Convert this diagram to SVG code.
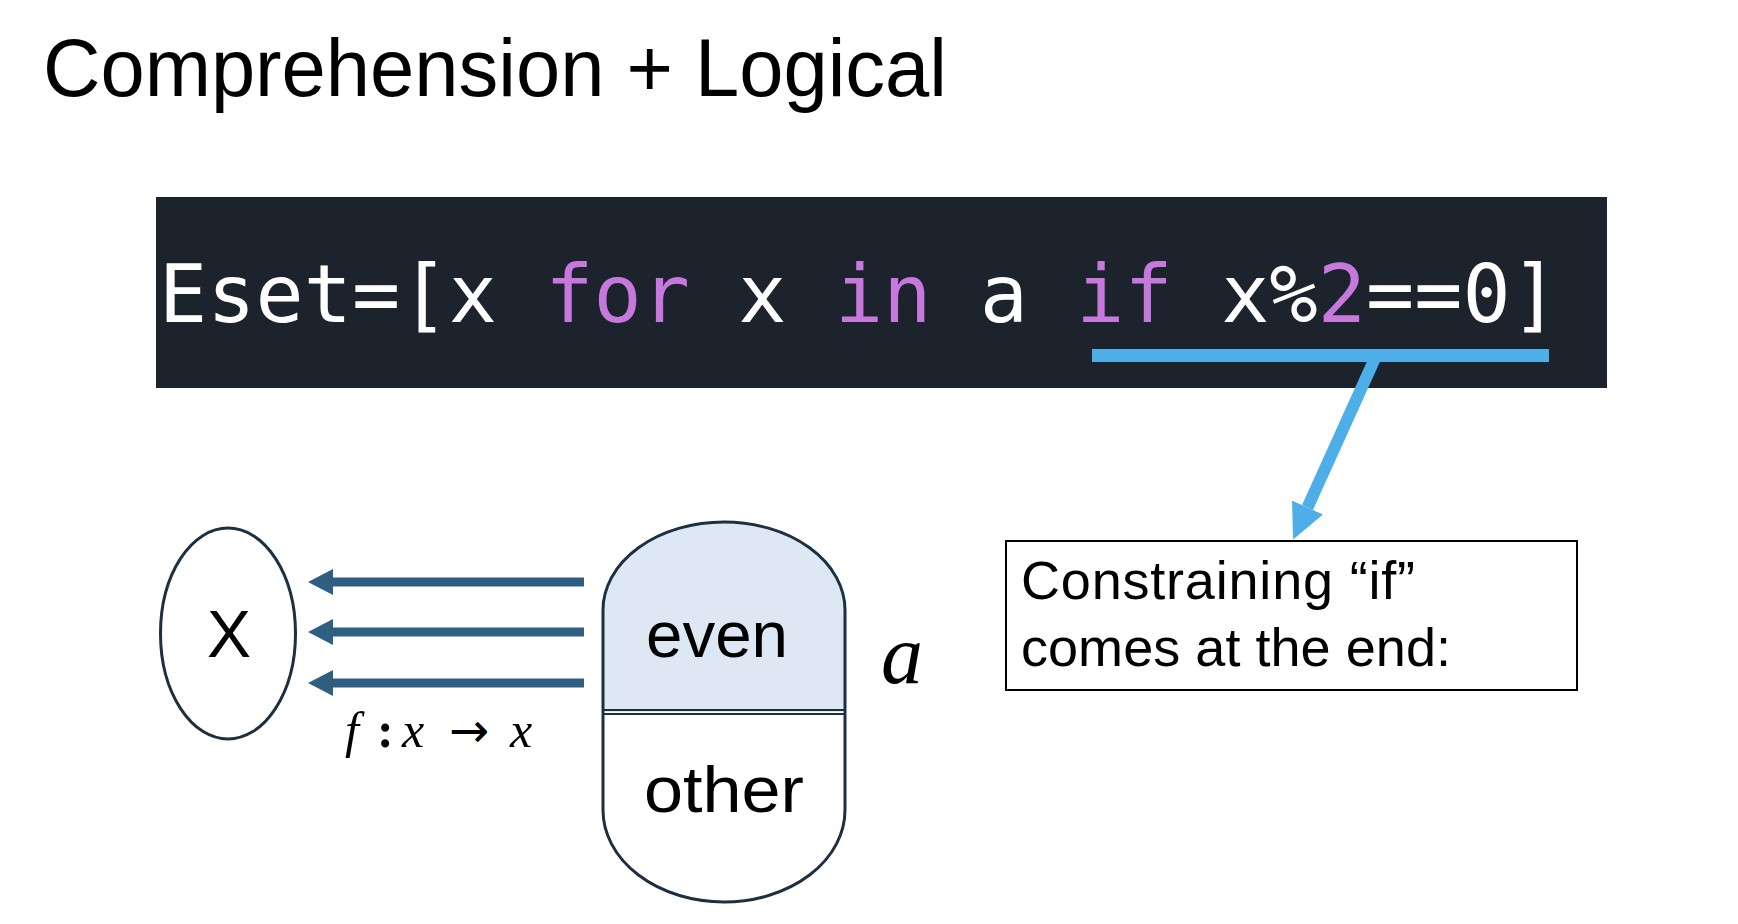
<svg xmlns="http://www.w3.org/2000/svg" width="1738" height="924" viewBox="0 0 1738 924">
<defs>
<style>
.sans{font-family:"Liberation Sans",Arial,sans-serif;fill:#000}
.mono{font-family:"DejaVu Sans Mono","Liberation Mono",monospace;font-size:80px;fill:#ffffff}
.kw{fill:#c678dd}
.math{font-family:"Liberation Serif","Times New Roman",serif;fill:#000}
.it{font-style:italic}
.outline{stroke:#1c3042;stroke-width:3;fill:none}
.darrow{stroke:#2e5f80;stroke-width:9;fill:none}
</style>
<marker id="dh" markerUnits="userSpaceOnUse" markerWidth="25" markerHeight="26" refX="0" refY="13" orient="auto" viewBox="0 0 25 26">
<path d="M0,0 L25,13 L0,26 Z" fill="#2e5f80"/>
</marker>
<marker id="bh" markerUnits="userSpaceOnUse" markerWidth="35" markerHeight="34" refX="0" refY="17" orient="auto" viewBox="0 0 35 34">
<path d="M0,0 L35,17 L0,34 Z" fill="#4eaee8"/>
</marker>
</defs>
<rect width="1738" height="924" fill="#ffffff"/>

<g id="title">
<text class="sans" x="43" y="96" font-size="82" textLength="904" lengthAdjust="spacingAndGlyphs">Comprehension + Logical</text>
</g>

<g id="code">
<rect x="156" y="197" width="1451" height="191" fill="#1d232c"/>
<text class="mono" x="159" y="322" textLength="1400" lengthAdjust="spacing">Eset=[x <tspan class="kw">for</tspan> x <tspan class="kw">in</tspan> a <tspan class="kw">if</tspan> x%<tspan class="kw">2</tspan>==0]</text>
<rect x="1092" y="349" width="457" height="13" fill="#4eaee8"/>
</g>

<g id="setX">
<ellipse class="outline" cx="228" cy="633.5" rx="67.5" ry="105.5" fill="#ffffff"/>
<text class="sans" x="229" y="657" font-size="66" text-anchor="middle">X</text>
</g>

<g id="setA">
<path d="M603,712 L603,610 A121,88 0 0 1 845,610 L845,712 Z" fill="#dee8f4"/>
<path d="M603,712 L603,810 A121,92 0 0 0 845,810 L845,712 Z" fill="#ffffff"/>
<path class="outline" d="M603,610 A121,88 0 0 1 845,610 L845,810 A121,92 0 0 1 603,810 Z"/>
<line x1="603" y1="710" x2="845" y2="710" stroke="#1c3042" stroke-width="2"/>
<line x1="603" y1="714" x2="845" y2="714" stroke="#1c3042" stroke-width="2"/>
<text class="sans" x="717" y="657" font-size="64" text-anchor="middle" textLength="142" lengthAdjust="spacingAndGlyphs">even</text>
<text class="sans" x="724" y="812" font-size="64" text-anchor="middle" textLength="160" lengthAdjust="spacingAndGlyphs">other</text>
<text class="math it" x="881" y="683" font-size="84">a</text>
</g>

<g id="note">
<rect x="1006" y="541" width="571" height="149" fill="#ffffff" stroke="#000" stroke-width="2"/>
<text class="sans" x="1021" y="599" font-size="54" textLength="394" lengthAdjust="spacing">Constraining “if”</text>
<text class="sans" x="1021" y="666" font-size="54" textLength="430" lengthAdjust="spacing">comes at the end:</text>
</g>

<g id="connectors">
<line class="darrow" x1="584" y1="582" x2="333" y2="582" marker-end="url(#dh)"/>
<line class="darrow" x1="584" y1="632" x2="333" y2="632" marker-end="url(#dh)"/>
<line class="darrow" x1="584" y1="683" x2="333" y2="683" marker-end="url(#dh)"/>
<line x1="1376" y1="356" x2="1307.5" y2="507.5" stroke="#4eaee8" stroke-width="12" marker-end="url(#bh)"/>
</g>

<g id="mapLabel">
<text class="math" y="747" font-size="50"><tspan class="it" x="345">f</tspan><tspan x="377" font-weight="bold">:</tspan><tspan class="it" x="402">x</tspan><tspan x="449" font-family="DejaVu Sans" font-size="48">→</tspan><tspan class="it" x="510">x</tspan></text>
</g>
</svg>
